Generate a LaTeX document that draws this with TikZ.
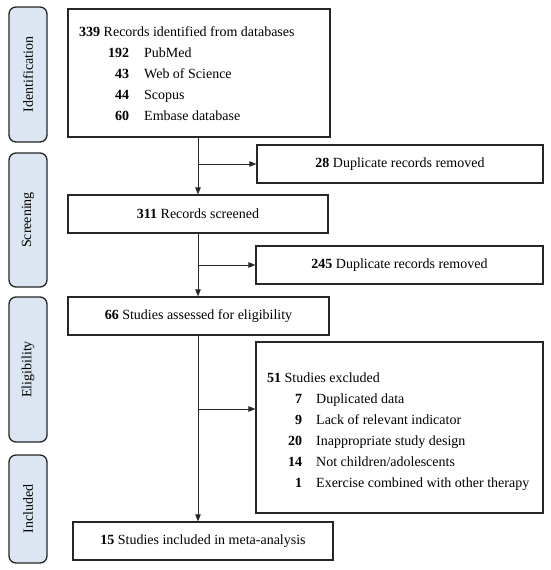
\documentclass[tikz,border=0pt]{standalone}
\usepackage{fontspec}
\setmainfont{Liberation Serif}
\usetikzlibrary{arrows.meta}
\definecolor{sidefill}{HTML}{DCE6F2}
\definecolor{boxline}{HTML}{262626}
\begin{document}
\begin{tikzpicture}[x=1pt,y=-1pt,
  every node/.style={font=\fontsize{14}{21}\selectfont, inner sep=0pt, text=black},
  sidebox/.style={draw=boxline, line width=1.3pt, fill=sidefill, rounded corners=7pt, rotate=90, minimum height=38pt},
  flowbox/.style={draw=boxline, line width=1.3pt, fill=white},
  arr/.style={draw=boxline, line width=0.8pt, -{Triangle[length=7pt,width=5.5pt]}}
]
\useasboundingbox (0,0) rectangle (550,570);
\fill[white] (0,0) rectangle (550,570);

% side labels
\node[sidebox, minimum width=135pt] (sid) at (28,74.5) {Identification};
\node[sidebox, minimum width=134pt] (sscr) at (28,220) {Screening};
\node[sidebox, minimum width=145pt] (selig) at (28,369.5) {Eligibility};
\node[sidebox, minimum width=108pt] (sincl) at (28,509) {Included};

% boxes
\node[flowbox, minimum width=262pt, minimum height=128pt] (id) at (199,73) {};
\node[anchor=west] (idtext) at (79,74) {\begin{tabular}{@{}r@{\hspace{15pt}}l@{}}
\multicolumn{2}{@{}l@{}}{\textbf{339} Records identified from databases}\\
\hspace*{29pt}\textbf{192} & PubMed\\
\textbf{43} & Web of Science\\
\textbf{44} & Scopus\\
\textbf{60} & Embase database
\end{tabular}};
\node[flowbox, minimum width=286pt, minimum height=38pt] (dup1) at (400,164) {\textbf{28} Duplicate records removed};
\node[flowbox, minimum width=260pt, minimum height=38pt] (scr) at (198,214) {\textbf{311} Records screened};
\node[flowbox, minimum width=287pt, minimum height=38pt] (dup2) at (399.5,265) {\textbf{245} Duplicate records removed};
\node[flowbox, minimum width=261pt, minimum height=38pt] (elig) at (198.5,316) {\textbf{66} Studies assessed for eligibility};
\node[flowbox, minimum width=287pt, minimum height=171pt] (excl) at (399.5,427.5) {};
\node[anchor=west] (excltext) at (267,431) {\begin{tabular}{@{}r@{\hspace{14pt}}l@{}}
\multicolumn{2}{@{}l@{}}{\textbf{51} Studies excluded}\\
\textbf{7} & Duplicated data\\
\textbf{9} & Lack of relevant indicator\\
\hspace*{21pt}\textbf{20} & Inappropriate study design\\
\textbf{14} & Not children/adolescents\\
\textbf{1} & Exercise combined with other therapy
\end{tabular}};
\node[flowbox, minimum width=260pt, minimum height=38pt] (incl) at (203,541) {\textbf{15} Studies included in meta-analysis};

% connectors
\draw[arr] (id.south -| scr.north) -- (scr.north);
\draw[arr] (dup1.west -| scr.north) -- (dup1.west);
\draw[arr] (scr.south) -- (elig.north -| scr.south);
\draw[arr] (dup2.west -| scr.south) -- (dup2.west);
\coordinate (b3) at (198,409);
\draw[arr] (elig.south -| b3) -- (incl.north -| b3);
\draw[arr] (b3) -- (b3 -| excl.west);
\end{tikzpicture}
\end{document}
